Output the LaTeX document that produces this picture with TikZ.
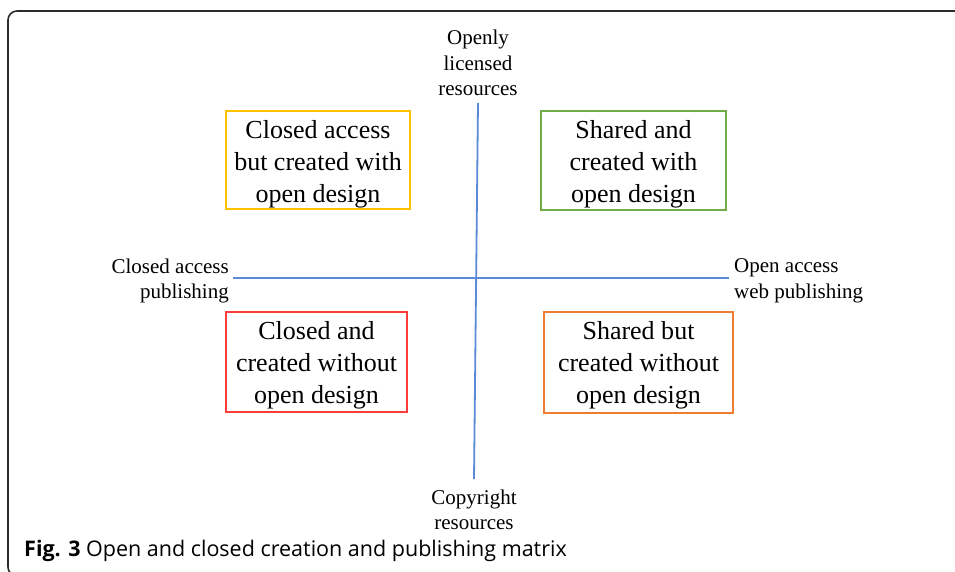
\documentclass[tikz,border=0pt]{standalone}
\usepackage{fontspec}
\setmainfont{Liberation Serif}
\newfontfamily\capfont{Open Sans}
\definecolor{axisblue}{HTML}{5B8BD6}
\definecolor{qyellow}{HTML}{FFC000}
\definecolor{qgreen}{HTML}{70AD47}
\definecolor{qred}{HTML}{FF3B3B}
\definecolor{qorange}{HTML}{ED7D31}
\definecolor{framegray}{HTML}{2B2B2B}
\tikzset{
  quad/.style={draw=#1, line width=2pt, inner sep=0pt},
  quadtext/.style={inner sep=0pt, align=center, font=\fontsize{26}{32}\selectfont},
  axlabel/.style={inner sep=0pt, font=\fontsize{21}{25.5}\selectfont},
  axisline/.style={draw=axisblue, line width=1.8pt},
}
\begin{document}
\begin{tikzpicture}[x=1pt,y=-1pt]
\useasboundingbox (0,0) rectangle (955,571);
\begin{scope}
\clip (0,0) rectangle (955,571);
\draw[framegray, line width=1.6pt, rounded corners=9pt] (8,11) rectangle (975,576);
\end{scope}
% axes
\coordinate (vtop) at (478,103);
\coordinate (vbot) at (474,479);
\coordinate (hleft) at (233,278);
\coordinate (hright) at (729,278);
\draw[axisline] (vtop) -- (vbot);
\draw[axisline] (hleft) -- (hright);
% quadrant boxes
\node[quad=qyellow, minimum width=184pt, minimum height=98pt] (cq) at (318,160) {};
\node[quad=qgreen, minimum width=185pt, minimum height=99pt] (sq) at (633.5,160.5) {};
\node[quad=qred, minimum width=181pt, minimum height=100pt] (cw) at (316.5,362) {};
\node[quad=qorange, minimum width=189pt, minimum height=101pt] (sw) at (638.5,362.5) {};
\node[quadtext] (cqt) at (318,164) {Closed access\\but created with\\open design};
\node[quadtext] (sqt) at (633.5,164) {Shared and\\created with\\open design};
\node[quadtext] (cwt) at (316.5,365) {Closed and\\created without\\open design};
\node[quadtext] (swt) at (638.5,365) {Shared but\\created without\\open design};
% axis labels
\node[axlabel, align=center] (top) at (478,63) {Openly\\licensed\\resources};
\node[axlabel, align=center] (bot) at (474,510) {Copyright\\resources};
\node[axlabel, align=right, anchor=east] (left) at (229,281) {Closed access\\publishing};
\node[axlabel, align=left, anchor=west] (right) at (734,281) {Open access\\web publishing};
% caption
\node[inner sep=0pt, anchor=base west, font=\capfont\fontsize{21.5}{26}\selectfont] (cap) at (24,556) {\textbf{Fig. 3} Open and closed creation and publishing matrix};
\end{tikzpicture}
\end{document}
